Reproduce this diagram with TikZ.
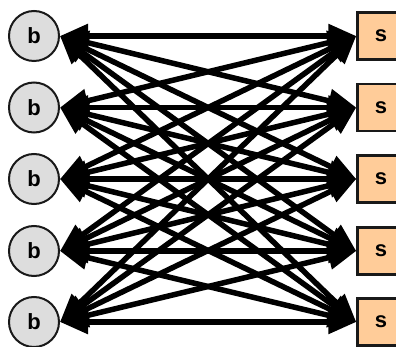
\documentclass[tikz,border=0pt]{standalone}
\usepackage{fontspec}
\setmainfont{Liberation Sans}
\usetikzlibrary{arrows.meta}
\definecolor{peach}{HTML}{FFCC99}
\definecolor{lgray}{HTML}{DDDDDD}
\begin{document}
\begin{tikzpicture}[x=1pt,y=-1pt,
  bnode/.style={circle,draw=black!90,line width=2pt,fill=lgray,minimum size=50pt,inner sep=0pt,font=\fontsize{22}{22}\selectfont\bfseries},
  snode/.style={rectangle,draw=black!90,line width=2.5pt,fill=peach,minimum size=47pt,inner sep=0pt,font=\fontsize{22}{22}\selectfont\bfseries},
  link/.style={line width=5.5pt,{Triangle[length=28pt,width=23pt]}-{Triangle[length=28pt,width=23pt]}}]
\useasboundingbox (0,0) rectangle (396,347);
\clip (0,0) rectangle (396,347);
\foreach \i/\y in {1/36,2/107.5,3/179,4/251,5/322}{
  \node[bnode] (b\i) at (34,\y) {b};
  \node[snode] (s\i) at (381,\y) {s};
}
\foreach \i in {1,...,5}{
  \foreach \j in {1,...,5}{
    \draw[link] (b\i.east) -- (s\j.west);
  }
}
\end{tikzpicture}
\end{document}
